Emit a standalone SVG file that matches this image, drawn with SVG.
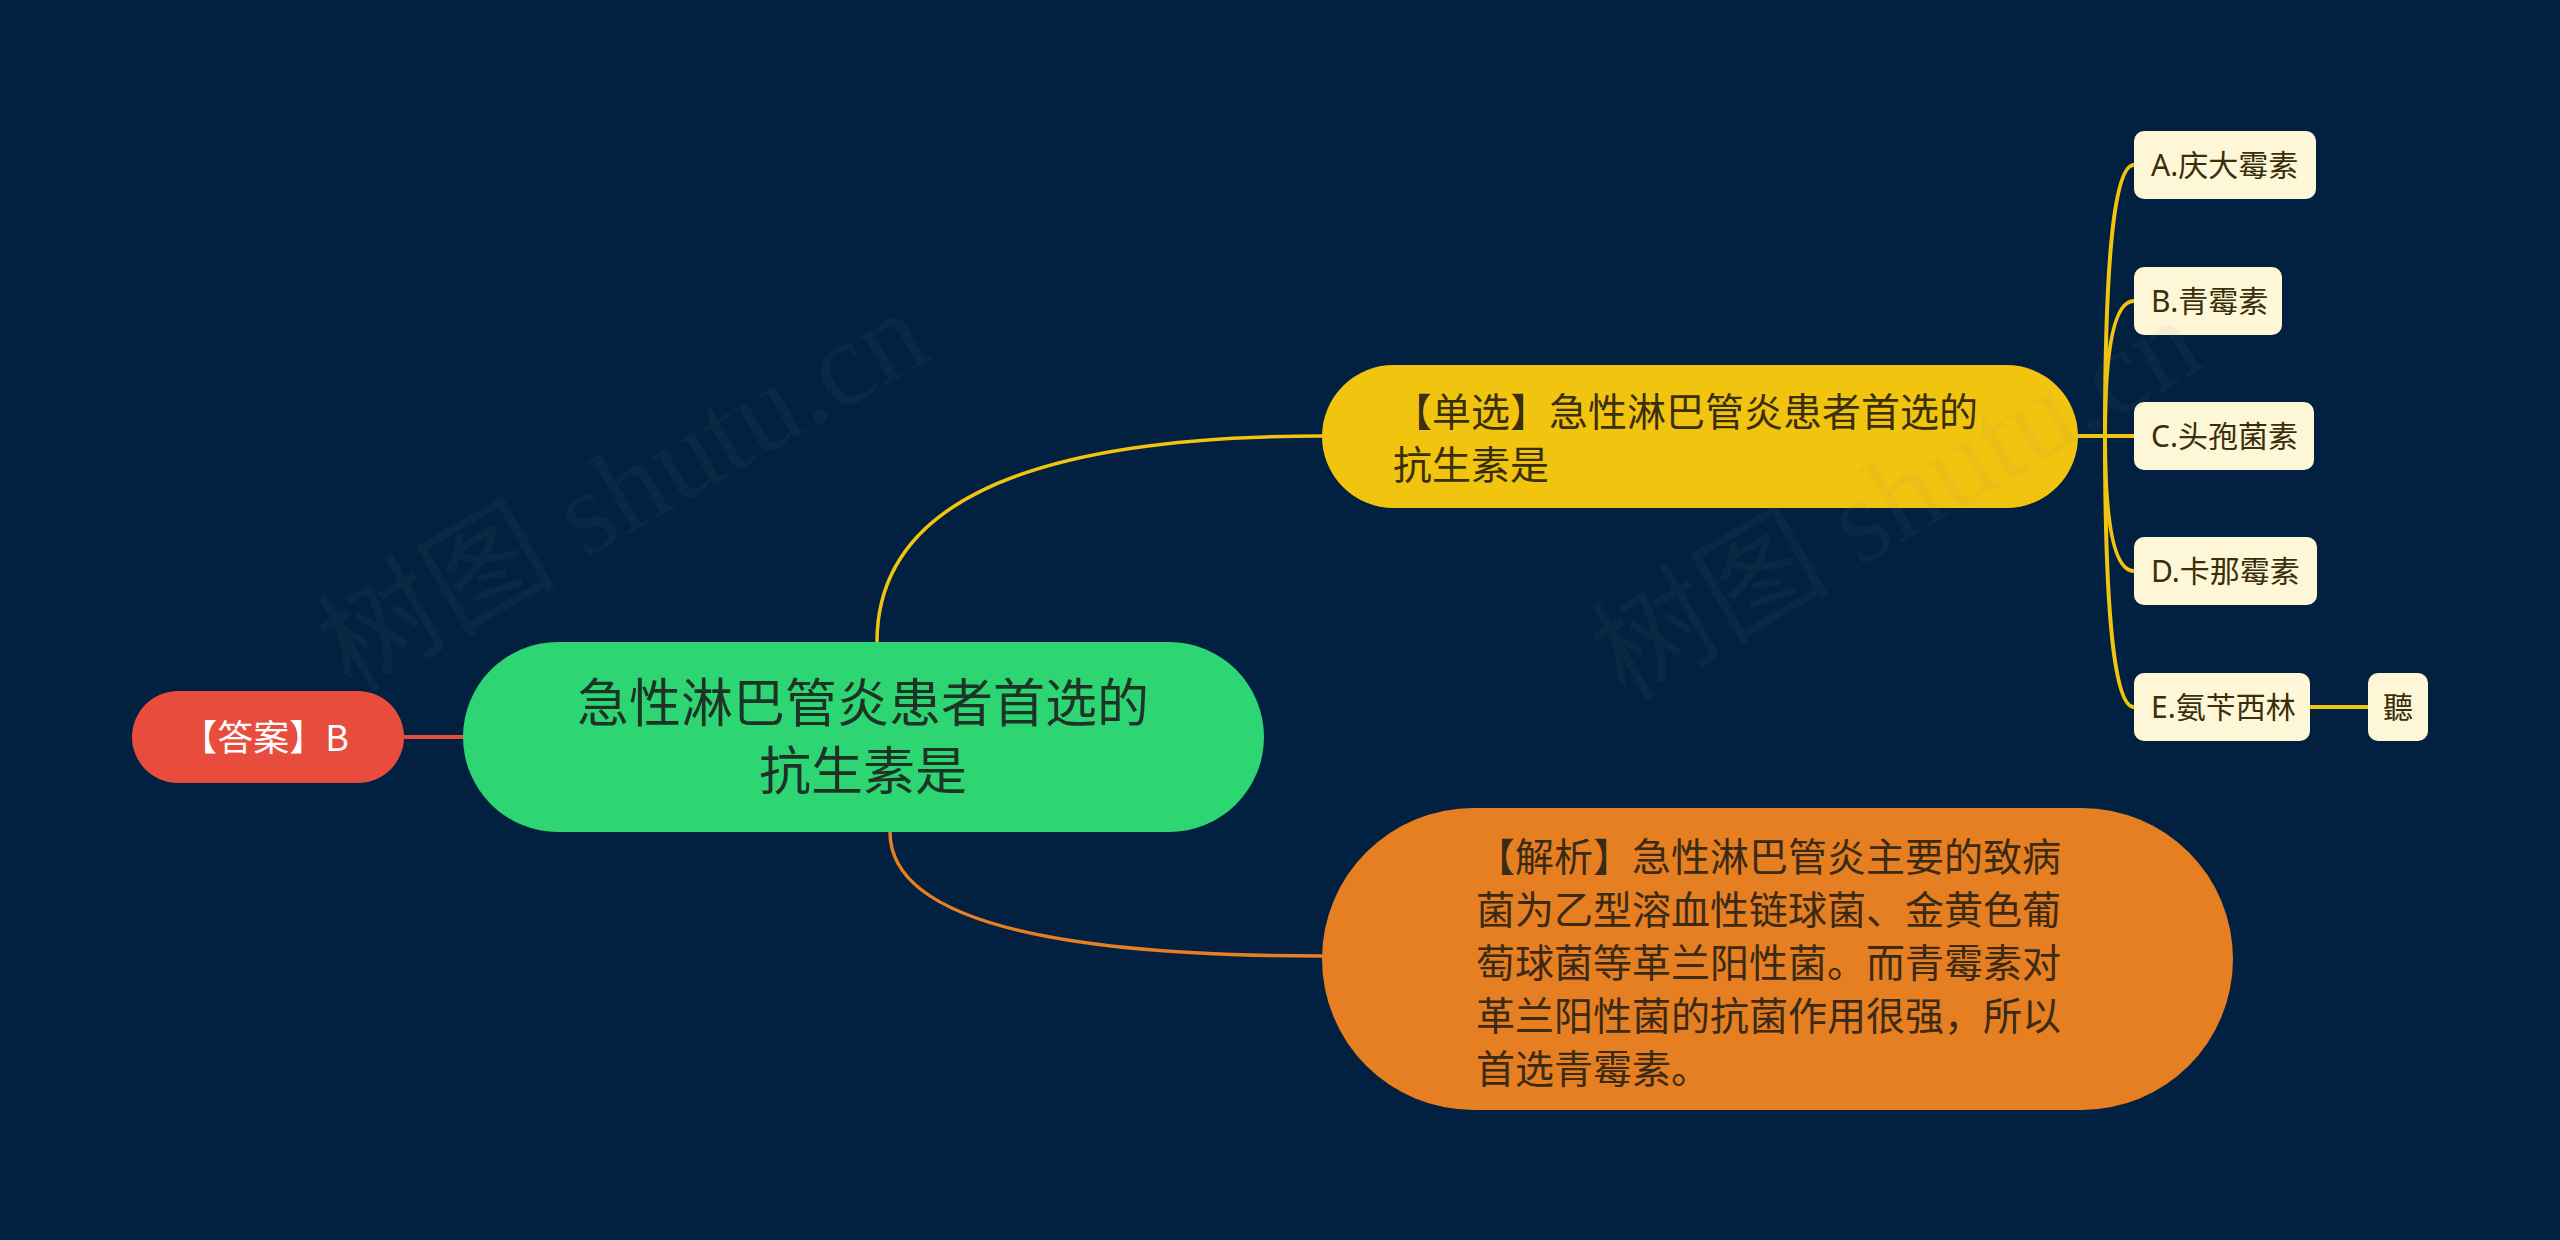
<svg xmlns="http://www.w3.org/2000/svg" width="2560" height="1240" viewBox="0 0 2560 1240">
<style>
.cjk{font-family:"Noto Sans CJK SC","Noto Sans",sans-serif;}
.leaf rect{fill:#fdf6d7;}
.leaf text{font-family:"Noto Sans","Noto Sans CJK SC",sans-serif;font-size:30px;fill:#3a2f0a;}
.conn path{fill:none;stroke-linecap:round;}
.y{stroke:#f1c40f;}
.wm{font-family:"Liberation Serif","Noto Sans CJK SC",serif;font-size:120px;fill:#8a8a8a;fill-opacity:0.065;}
</style>
<rect x="0" y="0" width="2560" height="1240" fill="#022140"/>
<g id="connectors" class="conn">
  <path d="M404,737 L463,737" stroke="#e74c3c" stroke-width="4"/>
  <path class="y" d="M877,642 Q877,436 1322,436" stroke-width="3.5"/>
  <path d="M890,832 Q890,956 1322,956" stroke="#e67e22" stroke-width="3.5"/>
  <path class="y" d="M2078,436 L2134,436" stroke-width="4"/>
  <path class="y" d="M2105,436 Q2105,165 2134,165" stroke-width="4"/>
  <path class="y" d="M2105,436 Q2105,301 2134,301" stroke-width="4"/>
  <path class="y" d="M2105,436 Q2105,571 2134,571" stroke-width="4"/>
  <path class="y" d="M2105,436 Q2105,707 2134,707" stroke-width="4"/>
  <path class="y" d="M2310,707 L2368,707" stroke-width="4"/>
</g>
<g id="root">
  <rect x="463" y="642" width="801" height="190" rx="95" fill="#2ed573"/>
  <text class="cjk" x="863" y="722" font-size="52" fill="#1c3325" text-anchor="middle">急性淋巴管炎患者首选的</text>
  <text class="cjk" x="863" y="790" font-size="52" fill="#1c3325" text-anchor="middle">抗生素是</text>
</g>
<g id="answer">
  <rect x="132" y="691" width="272" height="92" rx="46" fill="#e74c3c"/>
  <text class="cjk" x="265" y="751" font-size="36" fill="#ffffff" text-anchor="middle">【答案】B</text>
</g>
<g id="question">
  <rect x="1322" y="365" width="756" height="143" rx="71.5" fill="#f1c40f"/>
  <text class="cjk" x="1393" y="426" font-size="39" fill="#3a2f0a">【单选】急性淋巴管炎患者首选的</text>
  <text class="cjk" x="1393" y="479" font-size="39" fill="#3a2f0a">抗生素是</text>
</g>
<g id="analysis">
  <rect x="1322" y="808" width="911" height="302" rx="151" fill="#e67e22"/>
  <g class="cjk" font-size="39" fill="#3b2a14">
    <text x="1476" y="871">【解析】急性淋巴管炎主要的致病</text>
    <text x="1476" y="924">菌为乙型溶血性链球菌、金黄色葡</text>
    <text x="1476" y="977">萄球菌等革兰阳性菌。而青霉素对</text>
    <text x="1476" y="1030">革兰阳性菌的抗菌作用很强，所以</text>
    <text x="1476" y="1083">首选青霉素。</text>
  </g>
</g>
<g id="optA" class="leaf"><rect x="2134" y="131" width="182" height="68" rx="10"/><text x="2151" y="176">A.庆大霉素</text></g>
<g id="optB" class="leaf"><rect x="2134" y="267" width="148" height="68" rx="10"/><text x="2151" y="312">B.青霉素</text></g>
<g id="optC" class="leaf"><rect x="2134" y="402" width="180" height="68" rx="10"/><text x="2151" y="447">C.头孢菌素</text></g>
<g id="optD" class="leaf"><rect x="2134" y="537" width="183" height="68" rx="10"/><text x="2151" y="582">D.卡那霉素</text></g>
<g id="optE" class="leaf"><rect x="2134" y="673" width="176" height="68" rx="10"/><text x="2151" y="718">E.氨苄西林</text></g>
<g id="note" class="leaf"><rect x="2368" y="673" width="60" height="68" rx="10"/><text x="2398" y="718" text-anchor="middle">聽</text></g>
<g id="watermark">
  <text class="wm" transform="translate(351,694) rotate(-30)">树图 shutu.cn</text>
  <text class="wm" transform="translate(1625,702) rotate(-30)">树图 shutu.cn</text>
</g>
</svg>
